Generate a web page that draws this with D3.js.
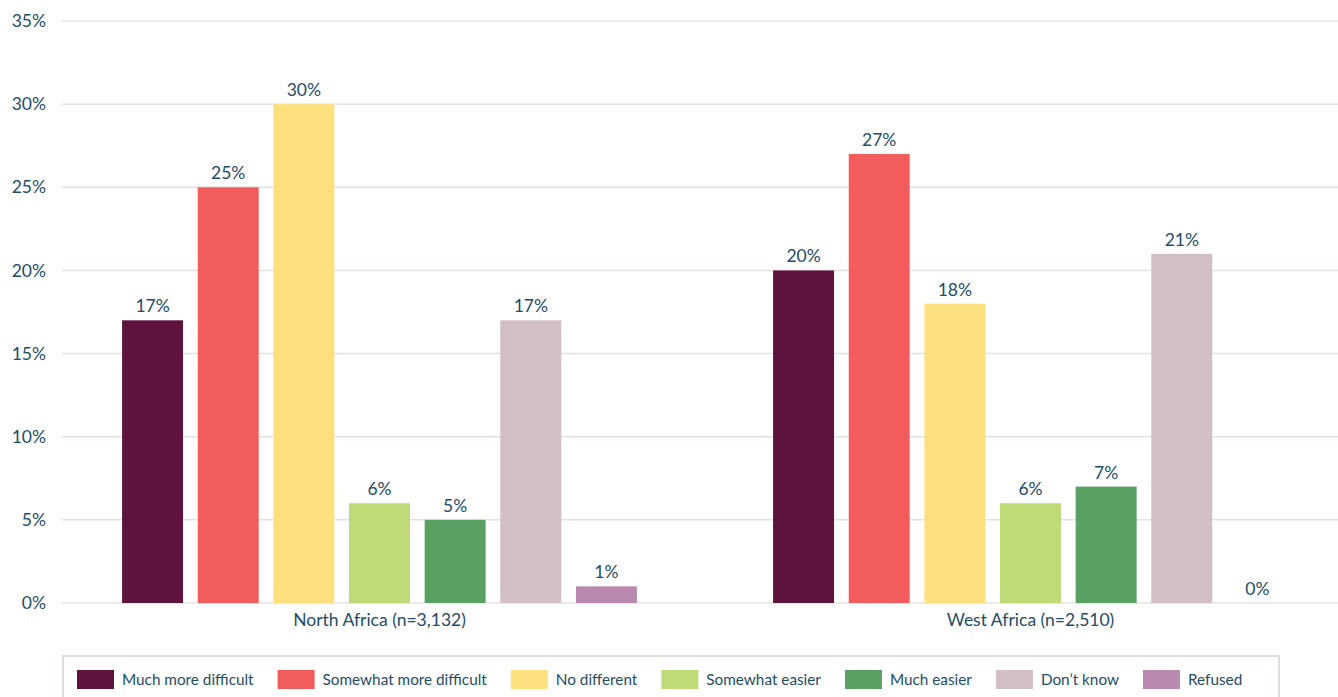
<!DOCTYPE html>
<html>
<head>
<meta charset="utf-8">
<script src="https://cdn.jsdelivr.net/npm/d3@7"></script>
<style>
  body { margin: 0; background: #fff; }
  text { font-family: Lato, "Open Sans", sans-serif; fill: #1e4d68; }
</style>
</head>
<body>
<script>
const w = 1338;
const h = 697;

const regions = ['North Africa (n=3,132)', 'West Africa (n=2,510)'];
const answers = ['Much more difficult', 'Somewhat more difficult', 'No different',
  'Somewhat easier', 'Much easier', "Don\u2019t know", 'Refused'];
const colors = ['#5d133c', '#f25c5c', '#fee07f', '#bddb77', '#5aa062', '#d1bfc4', '#b98aad'];
const northAfrica = [17, 25, 30, 6, 5, 17, 1];
const westAfrica = [20, 27, 18, 6, 7, 21, 0];
const yTicks = [0, 5, 10, 15, 20, 25, 30, 35];

const seriesByRegion = [northAfrica, westAfrica];

const svg = d3.select('body')
  .append('svg')
  .attr('width', w)
  .attr('height', h);

const y = d3.scaleLinear().domain([0, 35]).range([603, 21]);

const x0 = d3.scaleBand()
  .domain(regions)
  .range([54, 1356]);

const x1 = d3.scaleBand()
  .domain(answers)
  .range([0, x0.bandwidth()])
  .paddingInner(0.194)
  .paddingOuter(0.9);

// gridlines
svg.append('g')
  .selectAll('line')
  .data(yTicks)
  .enter()
  .append('line')
  .attr('x1', 62)
  .attr('x2', w)
  .attr('y1', d => y(d))
  .attr('y2', d => y(d))
  .attr('stroke', '#e7e0e3')
  .attr('stroke-width', 1.5);

// y axis labels
const yAxis = d3.axisLeft(y)
  .tickValues(yTicks)
  .tickFormat(d => d + '%')
  .tickSize(0)
  .tickPadding(0);

svg.append('g')
  .attr('transform', 'translate(46,0)')
  .call(yAxis)
  .call(g => g.select('.domain').remove())
  .selectAll('text')
  .style('font-size', '17.5px')
  .style('fill', '#1e4d68')
  .style('font-family', 'Lato, sans-serif');

// bars
const groups = svg.append('g')
  .selectAll('g')
  .data(regions)
  .enter()
  .append('g')
  .attr('transform', d => `translate(${x0(d)},0)`);

groups.selectAll('rect')
  .data((d, i) => seriesByRegion[i].map((v, j) => ({ key: answers[j], value: v, color: colors[j] })))
  .enter()
  .append('rect')
  .attr('x', d => x1(d.key))
  .attr('y', d => y(d.value))
  .attr('width', x1.bandwidth())
  .attr('height', d => y(0) - y(d.value))
  .attr('fill', d => d.color);

groups.selectAll('text')
  .data((d, i) => seriesByRegion[i].map((v, j) => ({ key: answers[j], value: v })))
  .enter()
  .append('text')
  .attr('x', d => x1(d.key) + x1.bandwidth() / 2)
  .attr('y', d => y(d.value) - 8)
  .attr('text-anchor', 'middle')
  .style('font-size', '17.5px')
  .text(d => d.value + '%');

// category labels
const xAxis = d3.axisBottom(x0).tickSize(0).tickPadding(0);
svg.append('g')
  .attr('transform', 'translate(0,614)')
  .call(xAxis)
  .call(g => g.select('.domain').remove())
  .selectAll('text')
  .attr('dy', '0.71em')
  .style('font-size', '17.5px')
  .style('fill', '#1e4d68')
  .style('font-family', 'Lato, sans-serif');

// legend
svg.append('rect')
  .attr('x', 63)
  .attr('y', 656)
  .attr('width', 1216)
  .attr('height', 60)
  .attr('fill', '#fff')
  .attr('stroke', '#e4dde0')
  .attr('stroke-width', 2);

const legend = svg.append('g');
let lx = 77;
answers.forEach((a, i) => {
  const item = legend.append('g').attr('transform', `translate(${lx},0)`);
  item.append('rect')
    .attr('x', 0)
    .attr('y', 670)
    .attr('width', 37)
    .attr('height', 19)
    .attr('fill', colors[i]);
  const t = item.append('text')
    .attr('x', 45)
    .attr('y', 685)
    .style('font-size', '15.3px')
    .text(a);
  lx += 45 + t.node().getComputedTextLength() + 24;
});
</script>
</body>
</html>
